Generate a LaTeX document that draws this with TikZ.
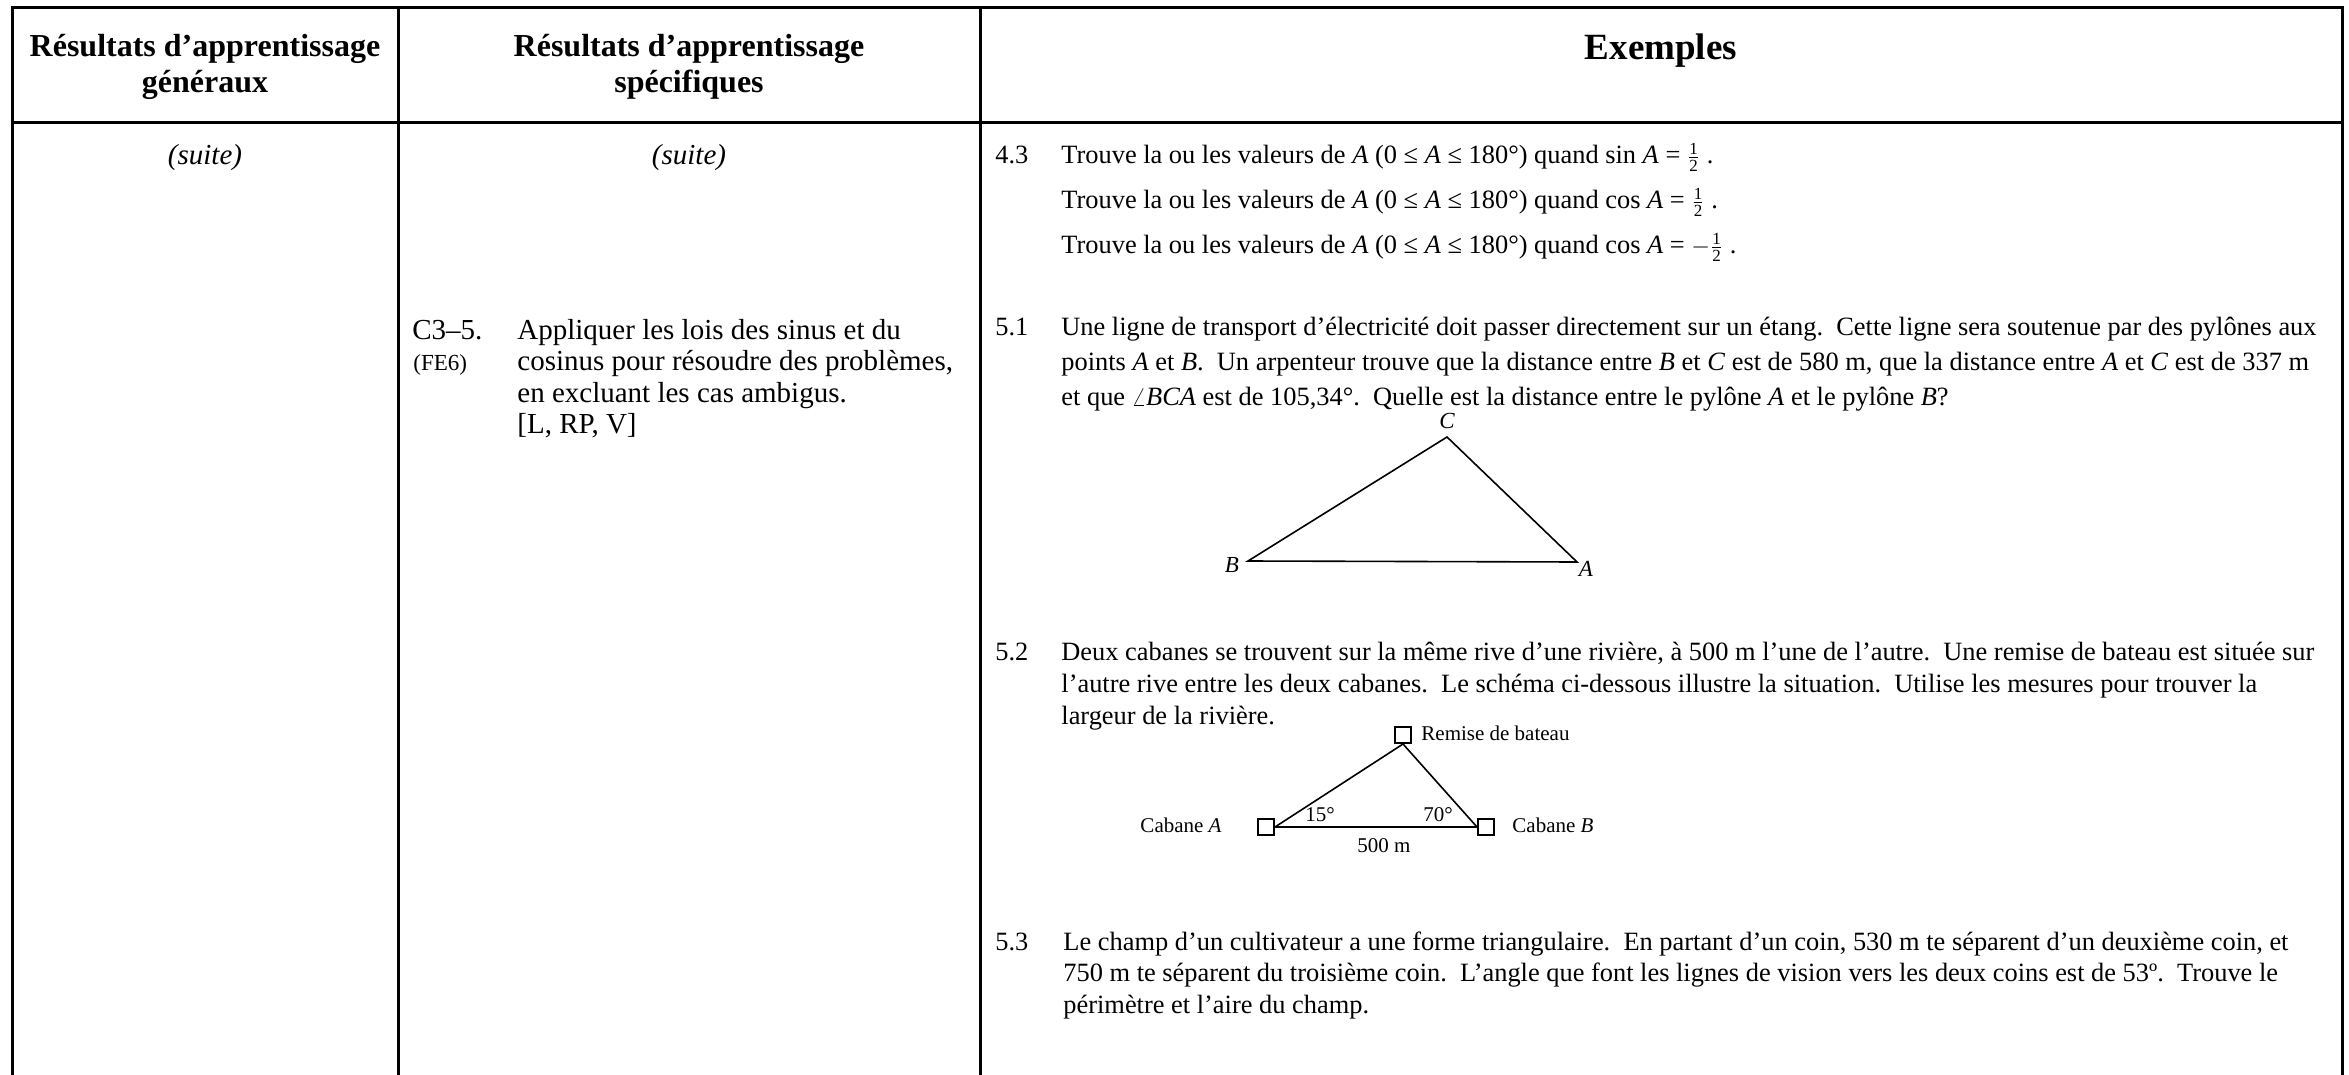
\documentclass[tikz,border=0pt]{standalone}
\usepackage{fontspec}
\setmainfont{Liberation Serif}
\newcommand\myhalf{\smash{\ensuremath{\frac{\mbox{\fontsize{8.5}{8.5}\selectfont 1}}{\mbox{\fontsize{8.5}{8.5}\selectfont 2}}}}}
\begin{document}
\begin{tikzpicture}[x=0.5pt,y=-0.5pt,
  tbl/.style={line width=1.5pt},
  hdr/.style={anchor=mid,inner sep=0,font=\fontsize{16}{19}\selectfont\bfseries},
  ln/.style={anchor=mid west,inner sep=0,font=\fontsize{13.2}{15}\selectfont},
  ctwo/.style={anchor=mid west,inner sep=0,font=\fontsize{14.5}{17}\selectfont},
  sml/.style={inner sep=0,font=\fontsize{10.5}{12}\selectfont},
  lbl/.style={inner sep=0,font=\fontsize{11.5}{13}\selectfont\itshape},
  sq/.style={draw,line width=1pt,minimum size=8pt,inner sep=0},
  fig/.style={line width=0.8pt}]
\useasboundingbox (0,0) rectangle (2349,1075);
\fill[white] (0,0) rectangle (2349,1075);
% table frame
\coordinate (bl) at (12,1075);
\coordinate (tl) at (12,8);
\coordinate (tr) at (2342,8);
\coordinate (br) at (2342,1075);
\coordinate (hl) at (12,123);
\coordinate (hr) at (2342,123);
\coordinate (c1t) at (398,8);
\coordinate (c1b) at (398,1075);
\coordinate (c2t) at (980,8);
\coordinate (c2b) at (980,1075);
\draw[tbl,line join=miter] (bl) -- (tl) -- (tr) -- (br);
\draw[tbl] (hl) -- (hr);
\draw[tbl] (c1t) -- (c1b);
\draw[tbl] (c2t) -- (c2b);
% headers
\node[hdr] (h1a) at (205,52) {Résultats d’apprentissage};
\node[hdr] (h1b) at (205,88) {généraux};
\node[hdr] (h2a) at (689,52) {Résultats d’apprentissage};
\node[hdr] (h2b) at (689,88) {spécifiques};
\node[hdr,font=\fontsize{18.5}{22}\selectfont\bfseries] (h3) at (1661,55) {Exemples};
% suite
\node[anchor=mid,inner sep=0,font=\fontsize{14.5}{17}\selectfont\itshape] (s1) at (205,160) {(suite)};
\node[anchor=mid,inner sep=0,font=\fontsize{14.5}{17}\selectfont\itshape] (s2) at (689,160) {(suite)};
% column 2
\node[ctwo] (c35) at (412,335) {C3–5.};
\node[ctwo,font=\fontsize{11.5}{13}\selectfont] (fe6) at (413,366) {(FE6)};
\node[ctwo] (t1) at (517,335) {Appliquer les lois des sinus et du};
\node[ctwo] (t2) at (517,366) {cosinus pour résoudre des problèmes,};
\node[ctwo] (t3) at (517,398) {en excluant les cas ambigus.};
\node[ctwo] (t4) at (517,429) {[L, RP, V]};
% 4.3
\node[ln] (n43) at (995,159) {4.3};
\node[ln] (a1) at (1061,159) {Trouve la ou les valeurs de \textit{A} (0 ≤ \textit{A} ≤ 180°) quand sin \textit{A} = \myhalf{} .};
\node[ln] (a2) at (1061,204) {Trouve la ou les valeurs de \textit{A} (0 ≤ \textit{A} ≤ 180°) quand cos \textit{A} = \myhalf{} .};
\node[ln] (a3) at (1061,249) {Trouve la ou les valeurs de \textit{A} (0 ≤ \textit{A} ≤ 180°) quand cos \textit{A} = \ensuremath{-}\myhalf{} .};
% 5.1
\node[ln] (n51) at (995,331) {5.1};
\node[ln] (b1) at (1061,331) {Une ligne de transport d’électricité doit passer directement sur un étang.\ \ Cette ligne sera soutenue par des pylônes aux};
\node[ln] (b2) at (1061,366) {points \textit{A} et \textit{B}.\ \ Un arpenteur trouve que la distance entre \textit{B} et \textit{C} est de 580 m, que la distance entre \textit{A} et \textit{C} est de 337 m};
\node[ln] (b3) at (1061,401) {et que $\angle$\textit{BCA} est de 105,34°.\ \ Quelle est la distance entre le pylône \textit{A} et le pylône \textit{B}?};
% triangle 1
\coordinate (vC) at (1447,437);
\coordinate (vB) at (1248,561);
\coordinate (vA) at (1577,562);
\draw[fig,line join=miter] (vB) -- (vC) -- (vA) -- cycle;
\node[lbl] (lC) at (1447,421) {C};
\node[lbl] (lB) at (1232,565) {B};
\node[lbl] (lA) at (1586,569) {A};
% 5.2
\node[ln] (n52) at (995,656) {5.2};
\node[ln] (d1) at (1061,656) {Deux cabanes se trouvent sur la même rive d’une rivière, à 500 m l’une de l’autre.\ \ Une remise de bateau est située sur};
\node[ln] (d2) at (1061,688) {l’autre rive entre les deux cabanes.\ \ Le schéma ci-dessous illustre la situation.\ \ Utilise les mesures pour trouver la};
\node[ln] (d3) at (1061,720) {largeur de la rivière.};
% diagram 2
\node[sq] (rem) at (1403,735) {};
\node[sq] (cabA) at (1266,827) {};
\node[sq] (cabB) at (1486,827) {};
\draw[fig] (cabA.east) -- (cabB.west);
\draw[fig] (cabA.east) -- (rem.south);
\draw[fig] (rem.south) -- (cabB.west);
\node[sml,anchor=mid west] (trem) at (1421,736) {Remise de bateau};
\node[sml,anchor=mid east] (tcabA) at (1222,828) {Cabane \textit{A}};
\node[sml,anchor=mid west] (tcabB) at (1512,828) {Cabane \textit{B}};
\node[sml,anchor=mid] (ang15) at (1320,817) {15°};
\node[sml,anchor=mid] (ang70) at (1438,817) {70°};
\node[sml,anchor=mid] (dist) at (1384,848) {500 m};
% 5.3
\node[ln] (n53) at (995,946) {5.3};
\node[ln] (e1) at (1063,946) {Le champ d’un cultivateur a une forme triangulaire.\ \ En partant d’un coin, 530 m te séparent d’un deuxième coin, et};
\node[ln] (e2) at (1063,977) {750 m te séparent du troisième coin.\ \ L’angle que font les lignes de vision vers les deux coins est de 53º.\ \ Trouve le};
\node[ln] (e3) at (1063,1009) {périmètre et l’aire du champ.};
\end{tikzpicture}
\end{document}
